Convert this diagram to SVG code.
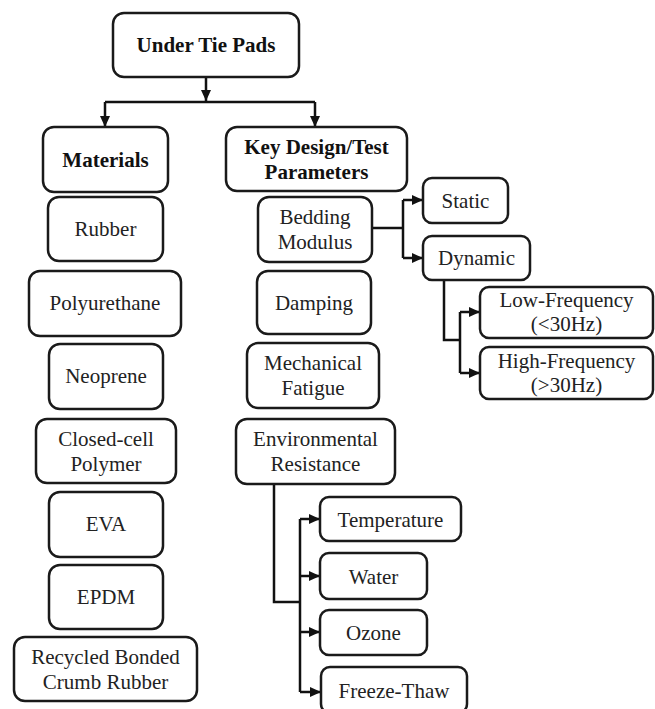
<svg xmlns="http://www.w3.org/2000/svg" width="655" height="709" viewBox="0 0 655 709">
<style>
.box{fill:#fff;stroke:#1a1a1a;stroke-width:2.5}
.t{font-family:'Liberation Serif','Times New Roman','DejaVu Serif',serif;font-size:21px;fill:#222;text-anchor:middle}
.b{font-weight:bold;fill:#111}
.c{fill:none;stroke:#111;stroke-width:2.5}
</style>
<defs>
<marker id="ah" markerUnits="userSpaceOnUse" markerWidth="12" markerHeight="12" viewBox="0 0 12 12" refX="11" refY="6" orient="auto">
<path d="M0,1 L11,6 L0,11 Z" fill="#111"/>
</marker>
</defs>
<rect width="655" height="709" fill="#fff"/>
<g id="connectors">
<path class="c" d="M206,77 V101" marker-end="url(#ah)"/>
<path class="c" d="M105,102 H315"/>
<path class="c" d="M105,102 V127" marker-end="url(#ah)"/>
<path class="c" d="M315,102 V127" marker-end="url(#ah)"/>
<path class="c" d="M372,228 H403 M403,200 V258"/>
<path class="c" d="M403,200 H423" marker-end="url(#ah)"/>
<path class="c" d="M403,258 H423" marker-end="url(#ah)"/>
<path class="c" d="M444,280 V340 H460 M460,312 V373"/>
<path class="c" d="M460,312 H480" marker-end="url(#ah)"/>
<path class="c" d="M460,373 H480" marker-end="url(#ah)"/>
<path class="c" d="M274,484 V602 H300 M300,519 V692"/>
<path class="c" d="M300,519 H320" marker-end="url(#ah)"/>
<path class="c" d="M300,576 H320" marker-end="url(#ah)"/>
<path class="c" d="M300,632 H320" marker-end="url(#ah)"/>
<path class="c" d="M300,692 H321" marker-end="url(#ah)"/>
</g>
<g id="root"><rect class="box" x="113" y="13" width="186" height="64" rx="11"/><text class="t b" x="206" y="52">Under Tie Pads</text></g>
<g id="materials"><rect class="box" x="43" y="127" width="125" height="65" rx="11"/><text class="t b" x="105.5" y="167">Materials</text></g>
<g id="keydesign"><rect class="box" x="226" y="127" width="181" height="64" rx="11"/><text class="t b" x="316.5" y="154">Key Design/Test</text><text class="t b" x="316.5" y="179">Parameters</text></g>
<g id="rubber"><rect class="box" x="48" y="197" width="115" height="64" rx="11"/><text class="t" x="105.5" y="236">Rubber</text></g>
<g id="polyurethane"><rect class="box" x="29" y="271" width="152" height="65" rx="11"/><text class="t" x="105" y="310">Polyurethane</text></g>
<g id="neoprene"><rect class="box" x="49" y="344" width="114" height="65" rx="11"/><text class="t" x="106" y="383">Neoprene</text></g>
<g id="closedcell"><rect class="box" x="36" y="419" width="140" height="64" rx="11"/><text class="t" x="106" y="446">Closed-cell</text><text class="t" x="106" y="471">Polymer</text></g>
<g id="eva"><rect class="box" x="49" y="492" width="114" height="65" rx="11"/><text class="t" x="106" y="531">EVA</text></g>
<g id="epdm"><rect class="box" x="49" y="565" width="114" height="64" rx="11"/><text class="t" x="106" y="604">EPDM</text></g>
<g id="recycled"><rect class="box" x="14" y="637" width="183" height="64" rx="11"/><text class="t" x="105.5" y="664">Recycled Bonded</text><text class="t" x="105.5" y="689">Crumb Rubber</text></g>
<g id="bedding"><rect class="box" x="258" y="197" width="114" height="65" rx="11"/><text class="t" x="315" y="224">Bedding</text><text class="t" x="315" y="249">Modulus</text></g>
<g id="damping"><rect class="box" x="257" y="271" width="114" height="63" rx="11"/><text class="t" x="314" y="310">Damping</text></g>
<g id="mechanical"><rect class="box" x="247" y="343" width="132" height="65" rx="11"/><text class="t" x="313" y="370">Mechanical</text><text class="t" x="313" y="395">Fatigue</text></g>
<g id="environmental"><rect class="box" x="236" y="419" width="159" height="65" rx="11"/><text class="t" x="315.5" y="446">Environmental</text><text class="t" x="315.5" y="471">Resistance</text></g>
<g id="static"><rect class="box" x="423" y="178" width="85" height="45" rx="9"/><text class="t" x="465.5" y="208">Static</text></g>
<g id="dynamic"><rect class="box" x="423" y="236" width="107" height="44" rx="9"/><text class="t" x="476.5" y="265">Dynamic</text></g>
<g id="lowfreq"><rect class="box" x="480" y="287" width="173" height="51" rx="9"/><text class="t" x="566.5" y="307">Low-Frequency</text><text class="t" x="566.5" y="331">(&lt;30Hz)</text></g>
<g id="highfreq"><rect class="box" x="480" y="347" width="173" height="52" rx="9"/><text class="t" x="566.5" y="368">High-Frequency</text><text class="t" x="566.5" y="392">(&gt;30Hz)</text></g>
<g id="temperature"><rect class="box" x="320" y="497" width="141" height="44" rx="9"/><text class="t" x="390.5" y="527">Temperature</text></g>
<g id="water"><rect class="box" x="320" y="553" width="107" height="46" rx="9"/><text class="t" x="373.5" y="584">Water</text></g>
<g id="ozone"><rect class="box" x="320" y="610" width="107" height="45" rx="9"/><text class="t" x="373.5" y="640">Ozone</text></g>
<g id="freezethaw"><rect class="box" x="321" y="667" width="146" height="46" rx="9"/><text class="t" x="394" y="698">Freeze-Thaw</text></g>
</svg>
